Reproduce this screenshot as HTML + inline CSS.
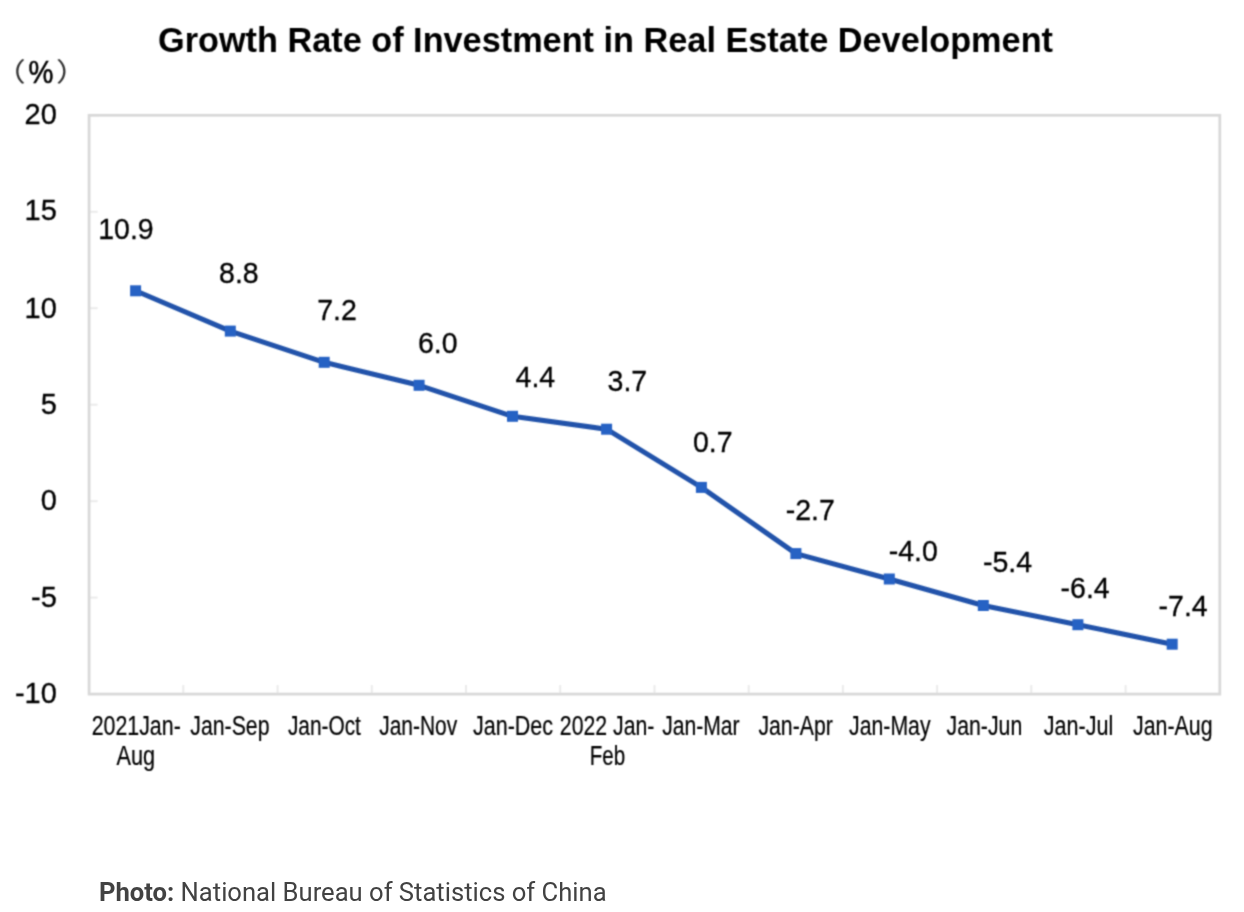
<!DOCTYPE html>
<html><head><meta charset="utf-8"><title>Growth Rate of Investment in Real Estate Development</title>
<style>
html,body{margin:0;padding:0;background:#fff;}
body{width:1244px;height:912px;position:relative;overflow:hidden;}
svg{position:absolute;left:0;top:0;}
svg text{font-family:"Liberation Sans",Arial,sans-serif;fill:#000;}
.dl,.yl{stroke:#000;stroke-width:0.3px;}
.xl{stroke:#000;stroke-width:0.2px;}
.dl{font-size:28.5px;}
.yl{font-size:29px;}
.xl{font-size:26px;}
.tt{font-size:35px;font-weight:bold;}
.pc{font-size:28px;stroke:#000;stroke-width:0.5px;}
.cj{font-size:26px;fill:#333;font-family:"Liberation Sans","Noto Sans CJK SC",sans-serif;}
svg text.cap{font-family:Roboto,"Liberation Sans",sans-serif;font-size:25.6px;fill:#424242;}
</style></head><body>
<svg width="1244" height="912" viewBox="0 0 1244 912">
<defs><filter id="bl" x="0" y="0" width="1244" height="912" filterUnits="userSpaceOnUse"><feConvolveMatrix order="3" kernelMatrix="0.1299 0.3604 0.1299 0.3604 1.0000 0.3604 0.1299 0.3604 0.1299" edgeMode="none" preserveAlpha="false"/></filter></defs>
<g filter="url(#bl)">
<line x1="89.1" y1="115.3" x2="97.6" y2="115.3" stroke="#ebebeb" stroke-width="2"/>
<line x1="89.1" y1="211.8" x2="97.6" y2="211.8" stroke="#ebebeb" stroke-width="2"/>
<line x1="89.1" y1="308.2" x2="97.6" y2="308.2" stroke="#ebebeb" stroke-width="2"/>
<line x1="89.1" y1="404.7" x2="97.6" y2="404.7" stroke="#ebebeb" stroke-width="2"/>
<line x1="89.1" y1="501.2" x2="97.6" y2="501.2" stroke="#ebebeb" stroke-width="2"/>
<line x1="89.1" y1="597.6" x2="97.6" y2="597.6" stroke="#ebebeb" stroke-width="2"/>
<line x1="89.1" y1="694.1" x2="97.6" y2="694.1" stroke="#ebebeb" stroke-width="2"/>
<line x1="183.3" y1="694.1" x2="183.3" y2="685.1" stroke="#ebebeb" stroke-width="2"/>
<line x1="277.6" y1="694.1" x2="277.6" y2="685.1" stroke="#ebebeb" stroke-width="2"/>
<line x1="371.8" y1="694.1" x2="371.8" y2="685.1" stroke="#ebebeb" stroke-width="2"/>
<line x1="466.0" y1="694.1" x2="466.0" y2="685.1" stroke="#ebebeb" stroke-width="2"/>
<line x1="560.2" y1="694.1" x2="560.2" y2="685.1" stroke="#ebebeb" stroke-width="2"/>
<line x1="654.5" y1="694.1" x2="654.5" y2="685.1" stroke="#ebebeb" stroke-width="2"/>
<line x1="748.7" y1="694.1" x2="748.7" y2="685.1" stroke="#ebebeb" stroke-width="2"/>
<line x1="842.9" y1="694.1" x2="842.9" y2="685.1" stroke="#ebebeb" stroke-width="2"/>
<line x1="937.1" y1="694.1" x2="937.1" y2="685.1" stroke="#ebebeb" stroke-width="2"/>
<line x1="1031.3" y1="694.1" x2="1031.3" y2="685.1" stroke="#ebebeb" stroke-width="2"/>
<line x1="1125.6" y1="694.1" x2="1125.6" y2="685.1" stroke="#ebebeb" stroke-width="2"/>
<rect x="89.1" y="115.3" width="1130.7" height="578.8000000000001" fill="none" stroke="#d9d9d9" stroke-width="2.8"/>
<polyline fill="none" stroke="#2253aa" stroke-width="5" stroke-linejoin="round" points="135.6,290.8 230.3,331.1 324.2,362.3 419.1,385.3 512.5,416.3 606.6,429.2 701.4,487.4 795.9,553.6 889.3,579.0 983.3,605.5 1077.9,624.7 1172.2,644.2"/>
<rect x="130.1" y="285.3" width="11" height="11" fill="#2862c4"/>
<rect x="224.8" y="325.6" width="11" height="11" fill="#2862c4"/>
<rect x="318.7" y="356.8" width="11" height="11" fill="#2862c4"/>
<rect x="413.6" y="379.8" width="11" height="11" fill="#2862c4"/>
<rect x="507.0" y="410.8" width="11" height="11" fill="#2862c4"/>
<rect x="601.1" y="423.7" width="11" height="11" fill="#2862c4"/>
<rect x="695.9" y="481.9" width="11" height="11" fill="#2862c4"/>
<rect x="790.4" y="548.1" width="11" height="11" fill="#2862c4"/>
<rect x="883.8" y="573.5" width="11" height="11" fill="#2862c4"/>
<rect x="977.8" y="600.0" width="11" height="11" fill="#2862c4"/>
<rect x="1072.4" y="619.2" width="11" height="11" fill="#2862c4"/>
<rect x="1166.7" y="638.7" width="11" height="11" fill="#2862c4"/>
<text transform="translate(126.0,238.8) scale(1,1.06)" text-anchor="middle" class="dl">10.9</text>
<text transform="translate(238.9,282.5) scale(1,1.06)" text-anchor="middle" class="dl">8.8</text>
<text transform="translate(337.05,320.3) scale(1,1.06)" text-anchor="middle" class="dl">7.2</text>
<text transform="translate(437.7,353.3) scale(1,1.06)" text-anchor="middle" class="dl">6.0</text>
<text transform="translate(535.35,386.8) scale(1,1.06)" text-anchor="middle" class="dl">4.4</text>
<text transform="translate(627.35,390.9) scale(1,1.06)" text-anchor="middle" class="dl">3.7</text>
<text transform="translate(712.75,451.6) scale(1,1.06)" text-anchor="middle" class="dl">0.7</text>
<text transform="translate(810.25,520.3) scale(1,1.06)" text-anchor="middle" class="dl">-2.7</text>
<text transform="translate(913.2,561.2) scale(1,1.06)" text-anchor="middle" class="dl">-4.0</text>
<text transform="translate(1007.45,572.4) scale(1,1.06)" text-anchor="middle" class="dl">-5.4</text>
<text transform="translate(1085.1,598.1) scale(1,1.06)" text-anchor="middle" class="dl">-6.4</text>
<text transform="translate(1183.15,616.2) scale(1,1.06)" text-anchor="middle" class="dl">-7.4</text>
<text transform="translate(56.8,123.8) scale(1,1.04)" text-anchor="end" class="yl">20</text>
<text transform="translate(56.8,220.3) scale(1,1.04)" text-anchor="end" class="yl">15</text>
<text transform="translate(56.8,317.5) scale(1,1.04)" text-anchor="end" class="yl">10</text>
<text transform="translate(56.8,414.2) scale(1,1.04)" text-anchor="end" class="yl">5</text>
<text transform="translate(56.8,510.0) scale(1,1.04)" text-anchor="end" class="yl">0</text>
<text transform="translate(56.8,607.1) scale(1,1.04)" text-anchor="end" class="yl">-5</text>
<text transform="translate(56.8,703.3) scale(1,1.04)" text-anchor="end" class="yl">-10</text>
<text transform="translate(136.2,734.7) scale(1,1.07)" text-anchor="middle" class="xl" textLength="89.1" lengthAdjust="spacingAndGlyphs">2021Jan-</text>
<text transform="translate(229.9,734.7) scale(1,1.07)" text-anchor="middle" class="xl" textLength="79.1" lengthAdjust="spacingAndGlyphs">Jan-Sep</text>
<text transform="translate(324.4,734.7) scale(1,1.07)" text-anchor="middle" class="xl" textLength="73.0" lengthAdjust="spacingAndGlyphs">Jan-Oct</text>
<text transform="translate(418.2,734.7) scale(1,1.07)" text-anchor="middle" class="xl" textLength="78.1" lengthAdjust="spacingAndGlyphs">Jan-Nov</text>
<text transform="translate(513.0,734.7) scale(1,1.07)" text-anchor="middle" class="xl" textLength="80.1" lengthAdjust="spacingAndGlyphs">Jan-Dec</text>
<text transform="translate(607.1,734.7) scale(1,1.07)" text-anchor="middle" class="xl" textLength="94.6" lengthAdjust="spacingAndGlyphs">2022 Jan-</text>
<text transform="translate(700.9,734.7) scale(1,1.07)" text-anchor="middle" class="xl" textLength="77.5" lengthAdjust="spacingAndGlyphs">Jan-Mar</text>
<text transform="translate(795.6,734.7) scale(1,1.07)" text-anchor="middle" class="xl" textLength="74.3" lengthAdjust="spacingAndGlyphs">Jan-Apr</text>
<text transform="translate(889.8,734.7) scale(1,1.07)" text-anchor="middle" class="xl" textLength="81.4" lengthAdjust="spacingAndGlyphs">Jan-May</text>
<text transform="translate(984.4,734.7) scale(1,1.07)" text-anchor="middle" class="xl" textLength="75.6" lengthAdjust="spacingAndGlyphs">Jan-Jun</text>
<text transform="translate(1078.5,734.7) scale(1,1.07)" text-anchor="middle" class="xl" textLength="69.5" lengthAdjust="spacingAndGlyphs">Jan-Jul</text>
<text transform="translate(1172.8,734.7) scale(1,1.07)" text-anchor="middle" class="xl" textLength="79.4" lengthAdjust="spacingAndGlyphs">Jan-Aug</text>
<text transform="translate(135.8,765) scale(1,1.07)" text-anchor="middle" class="xl" textLength="38.6" lengthAdjust="spacingAndGlyphs">Aug</text>
<text transform="translate(607.4,765) scale(1,1.07)" text-anchor="middle" class="xl" textLength="35.4" lengthAdjust="spacingAndGlyphs">Feb</text>
<text x="605.5" y="51.5" text-anchor="middle" class="tt" textLength="895" lengthAdjust="spacingAndGlyphs">Growth Rate of Investment in Real Estate Development</text>
<text transform="translate(-5.6,81) scale(1.2,1)" class="cj">（</text><text transform="translate(28.5,82.7) scale(1,1.13)" class="pc">%</text><text transform="translate(56.1,81) scale(1.2,1)" class="cj">）</text>
</g>
<text class="cap" x="99" y="900.6" textLength="507.6" lengthAdjust="spacingAndGlyphs"><tspan font-weight="bold">Photo:</tspan> National Bureau of Statistics of China</text>
</svg>
</body></html>
